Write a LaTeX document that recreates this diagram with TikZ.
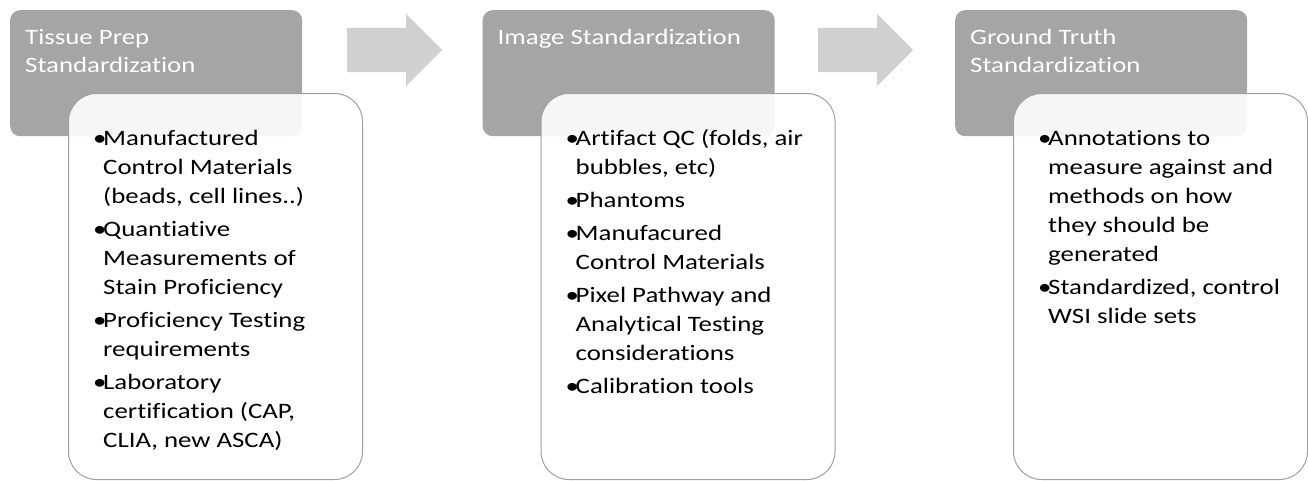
\documentclass[tikz,border=0pt]{standalone}
\usepackage{fontspec}
\setmainfont{Carlito}[FakeStretch=1.22, Ligatures=NoCommon]
\usepackage{tikz}
\usetikzlibrary{positioning, shapes.arrows}
\usepackage{xcolor}
\definecolor{headgray}{HTML}{A5A5A5}
\definecolor{arrowgray}{HTML}{D0D0D0}
\definecolor{edgegray}{HTML}{A0A0A0}
\newcommand{\bul}{\par\hangindent=10pt\hangafter=1\noindent\makebox[10pt][l]{\textbullet}}

\begin{document}
\begin{tikzpicture}[x=1pt, y=-1pt,
    headbox/.style={rectangle, rounded corners=10pt, fill=headgray, inner sep=0pt,
        minimum width=292pt, minimum height=126pt, anchor=north west},
    headtext/.style={anchor=north west, inner sep=0pt, text=white, align=left,
        font=\fontsize{22}{28}\selectfont},
    listbox/.style={rectangle, rounded corners=28pt, draw=edgegray, line width=1pt,
        fill=white, fill opacity=0.9, inner sep=0pt,
        minimum width=294pt, minimum height=386pt, anchor=north west},
    listtext/.style={anchor=north west, inner sep=0pt, text width=275pt, align=flush left,
        font=\fontsize{22}{29}\selectfont, execute at begin node={\setlength{\parskip}{4pt}}},
    steparrow/.style={single arrow, fill=arrowgray, inner xsep=0pt, inner ysep=22pt,
        minimum height=95pt, single arrow head extend=14pt, anchor=tail}]
    \useasboundingbox (0,0) rectangle (1308,480);

    % Tissue prep step
    \node[headbox] (tissuehead) at (10,10) {};
    \node[headtext] at ([shift={(15,19)}]tissuehead.north west) {Tissue Prep\\Standardization};
    \node[listbox] (tissuelist) at (68,93) {};
    \node[listtext] at ([shift={(25,19)}]tissuelist.north west) {%
        \bul Manufactured\newline Control Materials\newline (beads, cell lines..)
        \bul Quantiative\newline Measurements of\newline Stain Proficiency
        \bul Proficiency Testing\newline requirements
        \bul Laboratory\newline certification (CAP,\newline CLIA, new ASCA)\par};

    % Image step
    \node[headbox] (imagehead) at (482.5,10) {};
    \node[headtext] at ([shift={(15,19)}]imagehead.north west) {Image Standardization};
    \node[listbox] (imagelist) at (540.5,93) {};
    \node[listtext] at ([shift={(25,19)}]imagelist.north west) {%
        \bul Artifact QC (folds, air\newline bubbles, etc)
        \bul Phantoms
        \bul Manufacured\newline Control Materials
        \bul Pixel Pathway and\newline Analytical Testing\newline considerations
        \bul Calibration tools\par};

    % Ground truth step
    \node[headbox] (truthhead) at (955,10) {};
    \node[headtext] at ([shift={(15,19)}]truthhead.north west) {Ground Truth\\Standardization};
    \node[listbox] (truthlist) at (1013,93) {};
    \node[listtext] at ([shift={(25,19)}]truthlist.north west) {%
        \bul Annotations to\newline measure against and\newline methods on how\newline they should be\newline generated
        \bul Standardized, control\newline WSI slide sets\par};

    % Arrows between steps
    \node[steparrow] (arrowA) at (347,50) {};
    \node[steparrow] (arrowB) at (818,50) {};
\end{tikzpicture}
\end{document}
